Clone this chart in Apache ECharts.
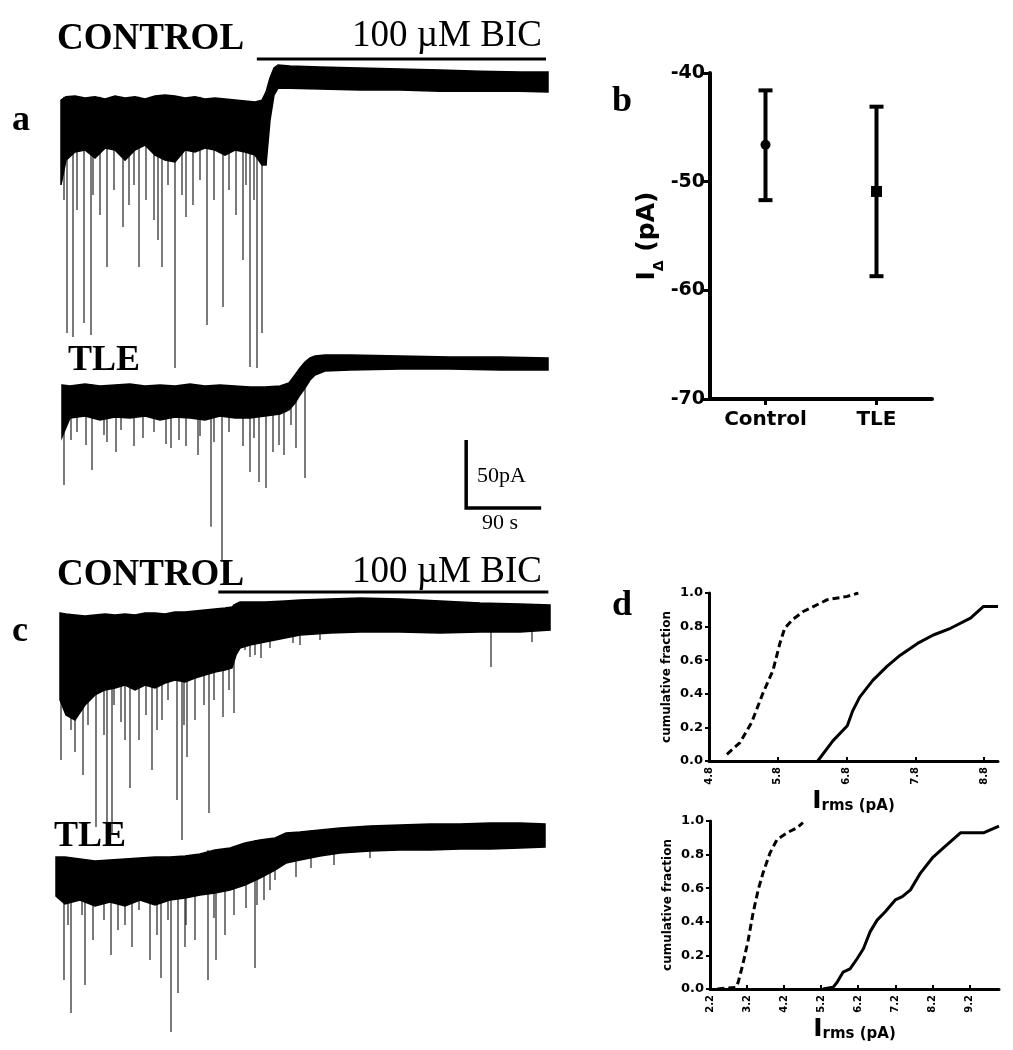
<!DOCTYPE html>
<html>
<head>
<meta charset="utf-8">
<script src="https://cdn.jsdelivr.net/npm/echarts@6/dist/echarts.min.js"></script>
<style>
  html, body { margin: 0; padding: 0; background: #fff; }
  #chart { width: 1013px; height: 1050px; }
</style>
</head>
<body>
<div id="chart"></div>
<script>
// traces: time in s, current in pA (0 = level under BIC)
// panel a, CONTROL
const aCtrlTime = [0, 6, 16.8, 28.8, 40.8, 52.8, 64.8, 76.8, 88.8, 100.8, 112.8, 124.8, 136.8, 148.8, 160.8, 172.8, 184.8, 196.8, 208.8, 220.8, 232.8, 241.2, 246, 250.8, 255.6, 260.4, 274.8, 310.8, 358.8, 406.8, 454.8, 502.8, 550.8, 584.4];
const aCtrlHigh = [-16.2, -13.8, -13.2, -14.7, -13.8, -15.4, -13.2, -14.7, -13.8, -15.4, -13.2, -12.5, -13.2, -14.7, -13.8, -15.4, -14.7, -15.4, -16.2, -16.9, -17.6, -16.2, -10.3, 0, 7.4, 9.6, 8.8, 8.1, 7.4, 6.6, 5.9, 5.1, 4.4, 4.4];
const aCtrlLow = [-78.6, -60.3, -54.4, -52.9, -58.8, -51.5, -52.9, -60.3, -52.9, -49.2, -56.6, -60.3, -61.7, -52.9, -54.4, -51.5, -52.9, -56.6, -52.9, -54.4, -56.6, -63.9, -63.9, -30.9, -12.5, -7.4, -7.4, -8.1, -8.8, -8.8, -9.6, -9.6, -9.6, -10.3];
const aCtrlSpikeTime = [7.2, 14.4, 27.6, 36, 55.2, 74.4, 93.6, 116.4, 121.2, 136.8, 150, 175.2, 194.4, 218.4, 226.8, 235.2, 241.2,
  3.6, 19.2, 38.4, 46.8, 63.6, 81.6, 87.6, 102, 111.6, 128.4, 145.2, 158.4, 166.8, 183.6, 201.6, 210, 222, 231.6, 246];
const aCtrlSpikePeak = [-187.4, -190.4, -180.1, -188.9, -138.9, -109.5, -138.9, -119.1, -138.9, -213.2, -102.2, -181.5, -168.3, -133.8, -212.4, -213.2, -187.4,
  -89.7, -97.0, -86.0, -100.7, -82.3, -93.3, -78.6, -89.7, -104.4, -78.6, -86.0, -93.3, -75.0, -89.7, -82.3, -100.7, -78.6, -89.7, -63.9];

// panel a, TLE
const aTleTime = [0, 9.6, 27.6, 45.6, 63.6, 81.6, 99.6, 117.6, 135.6, 153.6, 171.6, 189.6, 207.6, 225.6, 243.6, 261.6, 272.4, 279.6, 285.6, 291.6, 297.6, 303.6, 315.6, 345.6, 405.6, 465.6, 525.6, 583.2];
const aTleHigh = [-16.2, -16.9, -15.4, -16.9, -16.2, -15.4, -16.9, -16.2, -16.9, -15.4, -16.9, -16.2, -16.9, -17.6, -17.6, -16.9, -14.7, -8.8, -3.7, 0.7, 3.7, 5.1, 5.9, 5.9, 5.1, 4.4, 4.4, 3.7];
const aTleLow = [-54.4, -40.4, -39.0, -41.9, -39.7, -40.4, -39.0, -41.9, -39.7, -40.4, -41.9, -39.0, -40.4, -40.4, -39.0, -37.5, -34.5, -29.4, -23.5, -18.4, -12.5, -8.8, -5.9, -5.1, -4.4, -4.4, -5.1, -5.1];
const aTleSpikeTime = [2.4, 36, 64.8, 130.8, 163.2, 178.8, 192, 225.6, 236.4, 244.8, 253.2, 266.4, 280.8, 291.6,
  10.8, 18, 28.8, 50.4, 54, 70.8, 86.4, 97.2, 110.4, 124.8, 140.4, 148.8, 165.6, 182.4, 200.4, 217.2, 230.4, 260.4, 274.8];
const aTleSpikePeak = [-89.7, -78.6, -65.4, -62.5, -67.6, -120.5, -146.3, -80.1, -87.5, -91.9, -65.4, -67.6, -62.5, -84.5,
  -56.6, -50.7, -60.3, -52.9, -58.1, -49.2, -61.0, -55.1, -50.7, -59.5, -56.6, -61.0, -53.7, -58.1, -50.7, -61.0, -55.1, -60.3, -45.6];

// panel c, CONTROL
const cCtrlTime = [0, 7.2, 18, 30, 42, 54, 66, 78, 90, 102, 114, 126, 138, 150, 162, 174, 186, 198, 206.4, 211.2, 216, 228, 246, 270, 288, 324, 360, 408, 456, 504, 552, 588];
const cCtrlHigh = [2.9, 2.2, 1.5, 0.7, 1.5, 2.2, 1.5, 2.2, 1.5, 2.9, 2.9, 2.2, 3.7, 3.7, 4.4, 5.1, 5.9, 6.6, 7.4, 9.6, 11.0, 11.0, 11.0, 11.8, 12.5, 13.2, 14.0, 13.2, 11.8, 10.3, 9.6, 8.8];
const cCtrlLow = [-61.0, -72.0, -75.7, -64.7, -57.3, -53.6, -52.2, -50.0, -53.6, -50.0, -52.2, -48.5, -46.3, -47.8, -44.8, -42.6, -40.4, -39.0, -37.5, -27.9, -22.8, -20.6, -18.4, -15.4, -13.2, -11.8, -11.0, -11.0, -11.8, -11.0, -11.0, -9.6];
const cCtrlSpikeTime = [1.2, 18, 27.6, 43.2, 56.4, 62.4, 73.2, 84, 94.8, 110.4, 122.4, 140.4, 146.4, 152.4, 178.8, 195.6, 208.8, 228, 241.2, 279.6, 517.2, 566.4,
  13.2, 33.6, 52.8, 64.8, 78, 103.2, 116.4, 129.6, 148.8, 162, 172.8, 184.8, 202.8, 222, 234, 252, 288, 312];
const cCtrlSpikePeak = [-105.1, -99.2, -116.1, -154.4, -151.4, -160.2, -77.2, -125.7, -90.4, -112.5, -75.7, -134.5, -163.9, -102.9, -144.1, -73.5, -70.6, -29.4, -30.1, -19.1, -36.8, -18.4,
  -83.1, -79.4, -86.7, -64.7, -90.4, -72.0, -83.1, -61.0, -79.4, -75.7, -64.7, -61.0, -53.7, -24.3, -27.9, -22.8, -20.6, -16.9];

// panel c, TLE
const cTleTime = [0, 10.8, 28.8, 46.8, 64.8, 82.8, 100.8, 118.8, 136.8, 154.8, 172.8, 190.8, 208.8, 226.8, 244.8, 262.8, 276, 292.8, 316.8, 340.8, 376.8, 412.8, 448.8, 484.8, 520.8, 556.8, 586.8];
const cTleHigh = [-12.5, -12.5, -14.0, -15.4, -14.7, -14.0, -13.2, -12.5, -12.5, -11.8, -10.3, -7.4, -5.9, -2.2, 0, 1.5, 5.1, 5.9, 7.4, 8.8, 10.3, 11.0, 11.8, 11.8, 12.5, 12.5, 11.8];
const cTleLow = [-41.2, -47.0, -44.1, -48.5, -45.6, -48.5, -44.1, -47.8, -44.1, -42.6, -40.4, -39.0, -36.8, -33.1, -27.9, -22.1, -16.9, -14.7, -11.8, -9.6, -8.1, -7.4, -7.4, -6.6, -6.6, -5.9, -5.1];
const cTleSpikeTime = [9.6, 18, 34.8, 66, 91.2, 112.8, 126, 138, 146.4, 154.8, 182.4, 192, 228, 238.8, 256.8, 288, 306, 333.6, 376.8,
  14.4, 31.2, 44.4, 57.6, 74.4, 82.8, 99.6, 121.2, 134.4, 156, 166.8, 189.6, 202.8, 213.6, 241.2, 249.6, 262.8];
const cTleSpikePeak = [-102.9, -127.2, -106.6, -84.5, -78.6, -88.2, -101.4, -141.1, -112.5, -78.6, -102.9, -88.2, -50.0, -94.1, -36.8, -27.2, -20.6, -18.4, -13.2,
  -62.5, -55.1, -73.5, -58.8, -66.2, -62.5, -51.5, -69.8, -58.8, -62.5, -73.5, -57.3, -69.8, -55.1, -47.8, -44.1, -29.4];

// drug application bars and scale bar
const aBic = [235, 582, 14];      // start s, end s, drawn at pA
const cBic = [190, 586, 18.4];
const scaleBarPA = 50;
const scaleBarS = 90;
const scaleBarCorner = [485, -106.6];

// panel b
const bCategories = ['Control', 'TLE'];
const bMean = [-46.6, -50.9];
const bUpper = [-41.6, -43.1];
const bLower = [-51.7, -58.7];

// panel d, cumulative fraction vs Irms
const dTopDashedX = [5.06, 5.25, 5.42, 5.58, 5.73, 5.83, 5.90, 6.01, 6.17, 6.52, 6.81, 6.97];
const dTopDashedY = [0.04, 0.11, 0.23, 0.40, 0.54, 0.70, 0.79, 0.84, 0.89, 0.96, 0.98, 1.0];
const dTopSolidX = [6.38, 6.60, 6.81, 6.89, 6.99, 7.18, 7.39, 7.58, 7.83, 8.06, 8.31, 8.60, 8.79, 9.0];
const dTopSolidY = [0, 0.12, 0.21, 0.30, 0.38, 0.48, 0.565, 0.63, 0.70, 0.75, 0.79, 0.85, 0.92, 0.92];
const dTopTicks = [4.8, 5.8, 6.8, 7.8, 8.8];
const dBotDashedX = [2.4, 2.9, 2.96, 3.09, 3.23, 3.36, 3.50, 3.63, 3.82, 4.01, 4.28, 4.55, 4.71];
const dBotDashedY = [0, 0.01, 0.04, 0.15, 0.29, 0.45, 0.59, 0.69, 0.81, 0.89, 0.93, 0.96, 0.99];
const dBotSolidX = [5.25, 5.52, 5.63, 5.79, 5.98, 6.17, 6.34, 6.52, 6.71, 6.93, 7.2, 7.39, 7.61, 7.88, 8.2, 8.5, 8.96, 9.58, 10.0];
const dBotSolidY = [0, 0.01, 0.04, 0.10, 0.12, 0.18, 0.24, 0.34, 0.41, 0.46, 0.53, 0.55, 0.59, 0.69, 0.78, 0.84, 0.93, 0.93, 0.97];
const dBotTicks = [2.2, 3.2, 4.2, 5.2, 6.2, 7.2, 8.2, 9.2];

const SANS = 'DejaVu Sans';
const SERIF = 'Liberation Serif';

// noisy current shown as its envelope
function traceBand(k, time, high, low) {
  return {
    type: 'custom', xAxisIndex: k, yAxisIndex: k, silent: true, clip: false,
    data: [[time[0], high[0]]],
    renderItem: (params, api) => {
      const pts = [];
      time.forEach((t, i) => pts.push(api.coord([t, high[i]])));
      for (let i = time.length - 1; i >= 0; i--) pts.push(api.coord([time[i], low[i]]));
      return { type: 'polygon', shape: { points: pts }, style: { fill: '#000', stroke: '#000', lineWidth: 1.5 } };
    }
  };
}

// synaptic events, drawn from the top of the trace down to their peak
function traceSpikes(k, time, high, spikeTime, spikePeak) {
  return {
    type: 'custom', xAxisIndex: k, yAxisIndex: k, silent: true, clip: false,
    data: spikeTime.map((t, i) => [t, spikePeak[i]]),
    renderItem: (params, api) => {
      const t = api.value(0);
      let j = 0;
      time.forEach((s, i) => { if (Math.abs(s - t) < Math.abs(time[j] - t)) j = i; });
      const a = api.coord([t, high[j]]);
      const b = api.coord([t, api.value(1)]);
      return { type: 'line', shape: { x1: a[0], y1: a[1], x2: b[0], y2: b[1] }, style: { stroke: '#222', lineWidth: 1.2 } };
    }
  };
}

function hiddenAxes(k, yMin, yMax) {
  return [
    { type: 'value', gridIndex: k, min: 0, max: 588, show: false },
    { type: 'value', gridIndex: k, min: yMin, max: yMax, show: false }
  ];
}

function txt(x, y, text, font) {
  return { type: 'text', x: x, y: y, silent: true,
    style: { text: text, font: font, fill: '#000', textAlign: 'left', textVerticalAlign: 'middle' } };
}

const trAxes = [
  hiddenAxes(0, -236, 28),
  hiddenAxes(1, -152, 17),
  hiddenAxes(2, -171, 20),
  hiddenAxes(3, -151, 22)
];

const dAxisText = { color: '#000', fontFamily: SANS, fontWeight: 'bold' };
const irmsName = {
  name: '{a|I}{b|rms (pA)}', nameLocation: 'middle', nameGap: 22,
  nameTextStyle: { rich: {
    a: { fontFamily: SANS, fontWeight: 'bold', fontSize: 25, color: '#000', verticalAlign: 'bottom' },
    b: { fontFamily: SANS, fontWeight: 'bold', fontSize: 15, color: '#000', verticalAlign: 'bottom' }
  } }
};

function dXAxis(k, min, max, ticks) {
  return Object.assign({
    type: 'value', gridIndex: k, min: min, max: max,
    axisLine: { show: true, onZero: false, lineStyle: { color: '#000', width: 3 } },
    axisTick: { show: true, inside: true, length: 4, customValues: ticks, lineStyle: { color: '#000', width: 2 } },
    axisLabel: Object.assign({ rotate: 90, fontSize: 10, margin: 6, customValues: ticks,
      formatter: v => v.toFixed(1) }, dAxisText),
    splitLine: { show: false }
  }, irmsName);
}

function dYAxis(k) {
  return {
    type: 'value', gridIndex: k, min: 0, max: 1, interval: 0.2,
    axisLine: { show: true, onZero: false, lineStyle: { color: '#000', width: 3 } },
    axisTick: { show: true, length: 4, lineStyle: { color: '#000', width: 2 } },
    axisLabel: Object.assign({ fontSize: 13, margin: 6, formatter: v => v.toFixed(1) }, dAxisText),
    splitLine: { show: false },
    name: 'cumulative fraction', nameLocation: 'middle', nameGap: 36,
    nameTextStyle: Object.assign({ fontSize: 12 }, dAxisText)
  };
}

function curve(k, xs, ys, dashed) {
  return {
    type: 'line', xAxisIndex: k, yAxisIndex: k, symbol: 'none', silent: true,
    data: xs.map((x, i) => [x, ys[i]]),
    lineStyle: { color: '#000', width: 3, type: dashed ? [7, 4] : 'solid' }
  };
}

const chart = echarts.init(document.getElementById('chart'), null, { renderer: 'canvas' });

const option = {
  animation: false,
  backgroundColor: '#fff',
  grid: [
    { left: 61, top: 40, width: 490, height: 359, outerBoundsMode: 'none' },
    { left: 62, top: 339.9, width: 490, height: 229.8, outerBoundsMode: 'none' },
    { left: 60, top: 589.8, width: 490, height: 259.8, outerBoundsMode: 'none' },
    { left: 56, top: 810.1, width: 490, height: 235.3, outerBoundsMode: 'none' },
    { left: 710, top: 73, width: 222, height: 326, outerBoundsMode: 'none' },
    { left: 709, top: 593, width: 289, height: 168, outerBoundsMode: 'none' },
    { left: 710, top: 821, width: 289, height: 168, outerBoundsMode: 'none' }
  ],
  xAxis: [
    trAxes[0][0], trAxes[1][0], trAxes[2][0], trAxes[3][0],
    {
      type: 'category', gridIndex: 4, data: bCategories, boundaryGap: true,
      axisLine: { show: true, lineStyle: { color: '#000', width: 4 } },
      axisTick: { show: true, alignWithLabel: true, length: 6, lineStyle: { color: '#000', width: 3 } },
      axisLabel: { color: '#000', fontFamily: SANS, fontWeight: 'bold', fontSize: 20, margin: 11 },
      splitLine: { show: false }
    },
    dXAxis(5, 4.8, 9.0, dTopTicks),
    dXAxis(6, 2.2, 10.0, dBotTicks)
  ],
  yAxis: [
    trAxes[0][1], trAxes[1][1], trAxes[2][1], trAxes[3][1],
    {
      type: 'value', gridIndex: 4, min: -70, max: -40, interval: 10,
      axisLine: { show: true, lineStyle: { color: '#000', width: 4 } },
      axisTick: { show: true, length: 9, lineStyle: { color: '#000', width: 3 } },
      axisLabel: { color: '#000', fontFamily: SANS, fontWeight: 'bold', fontSize: 19, margin: 5 },
      splitLine: { show: false },
      name: '{i|I}{s|Δ}{n| (pA)}', nameLocation: 'middle', nameGap: 50,
      nameTextStyle: { rich: {
        i: { fontFamily: SANS, fontWeight: 'bold', fontSize: 25, color: '#000', verticalAlign: 'bottom' },
        s: { fontFamily: SANS, fontWeight: 'bold', fontSize: 14, color: '#000', verticalAlign: 'bottom', padding: [0, 0, -6, 0] },
        n: { fontFamily: SANS, fontWeight: 'bold', fontSize: 25, color: '#000', verticalAlign: 'bottom' }
      } }
    },
    dYAxis(5),
    dYAxis(6)
  ],
  series: [
    traceSpikes(0, aCtrlTime, aCtrlHigh, aCtrlSpikeTime, aCtrlSpikePeak),
    traceBand(0, aCtrlTime, aCtrlHigh, aCtrlLow),
    traceSpikes(1, aTleTime, aTleHigh, aTleSpikeTime, aTleSpikePeak),
    traceBand(1, aTleTime, aTleHigh, aTleLow),
    traceSpikes(2, cCtrlTime, cCtrlHigh, cCtrlSpikeTime, cCtrlSpikePeak),
    traceBand(2, cCtrlTime, cCtrlHigh, cCtrlLow),
    traceSpikes(3, cTleTime, cTleHigh, cTleSpikeTime, cTleSpikePeak),
    traceBand(3, cTleTime, cTleHigh, cTleLow),
    {
      type: 'line', xAxisIndex: 0, yAxisIndex: 0, symbol: 'none', silent: true, clip: false,
      data: [[aBic[0], aBic[2]], [aBic[1], aBic[2]]],
      lineStyle: { color: '#000', width: 3 }
    },
    {
      type: 'line', xAxisIndex: 2, yAxisIndex: 2, symbol: 'none', silent: true, clip: false,
      data: [[cBic[0], cBic[2]], [cBic[1], cBic[2]]],
      lineStyle: { color: '#000', width: 3 }
    },
    {
      type: 'line', xAxisIndex: 1, yAxisIndex: 1, symbol: 'none', silent: true, clip: false,
      data: [
        [scaleBarCorner[0], scaleBarCorner[1] + scaleBarPA],
        [scaleBarCorner[0], scaleBarCorner[1]],
        [scaleBarCorner[0] + scaleBarS, scaleBarCorner[1]]
      ],
      lineStyle: { color: '#000', width: 3.5, join: 'miter' }
    },
    {
      type: 'custom', xAxisIndex: 4, yAxisIndex: 4, silent: true,
      data: bCategories.map((c, i) => [i, bLower[i], bUpper[i]]),
      renderItem: (params, api) => {
        const lo = api.coord([api.value(0), api.value(1)]);
        const hi = api.coord([api.value(0), api.value(2)]);
        const w = 7;
        const st = { stroke: '#000', lineWidth: 4 };
        return { type: 'group', children: [
          { type: 'line', shape: { x1: hi[0], y1: hi[1], x2: lo[0], y2: lo[1] }, style: st },
          { type: 'line', shape: { x1: hi[0] - w, y1: hi[1], x2: hi[0] + w, y2: hi[1] }, style: st },
          { type: 'line', shape: { x1: lo[0] - w, y1: lo[1], x2: lo[0] + w, y2: lo[1] }, style: st }
        ] };
      }
    },
    {
      type: 'scatter', xAxisIndex: 4, yAxisIndex: 4, silent: true,
      data: bMean.map((v, i) => ({ value: [i, v], symbol: i ? 'rect' : 'circle', symbolSize: i ? 11 : 10 })),
      itemStyle: { color: '#000', opacity: 1 }
    },
    curve(5, dTopDashedX, dTopDashedY, true),
    curve(5, dTopSolidX, dTopSolidY, false),
    curve(6, dBotDashedX, dBotDashedY, true),
    curve(6, dBotSolidX, dBotSolidY, false)
  ],
  graphic: [
    txt(57, 39, 'CONTROL', 'bold 37px "' + SERIF + '"'),
    txt(352, 36, '100 µM BIC', '37px "' + SERIF + '"'),
    txt(68, 361, 'TLE', 'bold 36px "' + SERIF + '"'),
    txt(12, 121, 'a', 'bold 36px "' + SERIF + '"'),
    txt(477, 476, '50pA', '22px "' + SERIF + '"'),
    txt(482, 523, '90 s', '22px "' + SERIF + '"'),
    txt(612, 102, 'b', 'bold 36px "' + SERIF + '"'),
    txt(57, 575.5, 'CONTROL', 'bold 37px "' + SERIF + '"'),
    txt(352, 572.5, '100 µM BIC', '37px "' + SERIF + '"'),
    txt(12, 632, 'c', 'bold 36px "' + SERIF + '"'),
    txt(54, 836.5, 'TLE', 'bold 36px "' + SERIF + '"'),
    txt(612, 606, 'd', 'bold 36px "' + SERIF + '"')
  ]
};

chart.setOption(option);
</script>
</body>
</html>
